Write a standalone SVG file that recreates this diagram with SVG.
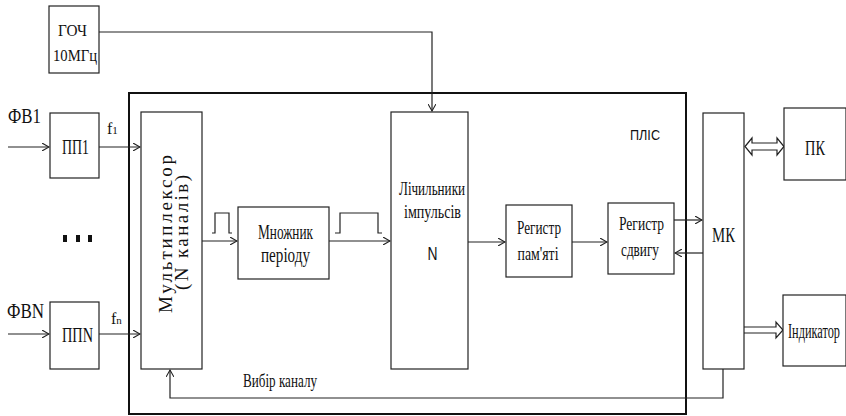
<svg xmlns="http://www.w3.org/2000/svg" width="846" height="416" viewBox="0 0 846 416">
<defs>
<style>
.b{fill:#fff;stroke:#222;stroke-width:1.2}
.c{fill:none;stroke:#222;stroke-width:1.2}
.m{text-anchor:middle}
</style>
<marker id="a" viewBox="0 0 8 8" refX="7" refY="4" markerWidth="8" markerHeight="8" markerUnits="userSpaceOnUse" orient="auto">
<path d="M0,0 L7,4 L0,8" fill="none" stroke="#222" stroke-width="1.1"/>
</marker>
</defs>
<rect width="846" height="416" fill="#fff"/>
<g fill="#111">
<g id="plis">
<rect x="129" y="93" width="557" height="321" fill="none" stroke="#111" stroke-width="2"/>
<text class="m" x="645" y="140" font-family="Liberation Sans" font-size="15" textLength="30" lengthAdjust="spacingAndGlyphs">ПЛІС</text>
</g>
<g id="connectors">
<path class="c" d="M99,32 H432 V111" marker-end="url(#a)"/>
<path class="c" d="M8,147 H49" marker-end="url(#a)"/>
<path class="c" d="M99,147 H140" marker-end="url(#a)"/>
<path class="c" d="M8,334 H49" marker-end="url(#a)"/>
<path class="c" d="M99,334 H140" marker-end="url(#a)"/>
<path class="c" d="M202,241 H237" marker-end="url(#a)"/>
<path class="c" d="M329,241 H390" marker-end="url(#a)"/>
<path class="c" d="M468,242 H505" marker-end="url(#a)"/>
<path class="c" d="M572,242 H607" marker-end="url(#a)"/>
<path class="c" d="M674,220 H702" marker-end="url(#a)"/>
<path class="c" d="M703,253 H675" marker-end="url(#a)"/>
<path class="c" d="M723,369 V398 H170 V370" marker-end="url(#a)"/>
<path class="c" d="M745,146.5 L752,138 V143 H777 V138 L784,146.5 L777,155 V150 H752 V155 Z"/>
<path class="c" d="M744,327 H776 V322 L783,330 L776,338 V333 H744"/>
<path class="c" d="M212,233 H215 V213 H229 V233 H232"/>
<path class="c" d="M335,233 H340 V213 H378 V233 H382"/>
<text x="243" y="387" font-family="Liberation Serif" font-size="18" textLength="74" lengthAdjust="spacingAndGlyphs">Вибір каналу</text>
</g>
<g id="goch">
<rect class="b" x="49" y="6" width="50" height="67"/>
<text class="m" x="72.5" y="36" font-family="Liberation Serif" font-size="17" textLength="29" lengthAdjust="spacingAndGlyphs">ГОЧ</text>
<text class="m" x="75" y="61" font-family="Liberation Serif" font-size="17" textLength="44" lengthAdjust="spacingAndGlyphs">10МГц</text>
</g>
<g id="inputs">
<text x="8" y="123" font-family="Liberation Serif" font-size="21" textLength="33" lengthAdjust="spacingAndGlyphs">ФВ1</text>
<text x="7" y="318" font-family="Liberation Serif" font-size="21" textLength="37" lengthAdjust="spacingAndGlyphs">ФВN</text>
<text x="107" y="134" font-family="Liberation Serif" font-size="16">f<tspan font-size="11">1</tspan></text>
<text x="111" y="324" font-family="Liberation Serif" font-size="16">f<tspan font-size="11">n</tspan></text>
<g><rect x="63" y="235" width="4" height="7"/><rect x="76" y="235" width="4" height="7"/><rect x="88" y="235" width="4" height="7"/></g>
</g>
<g id="pp1">
<rect class="b" x="50" y="113" width="49" height="65"/>
<text class="m" x="75.5" y="154" font-family="Liberation Serif" font-size="21" textLength="27" lengthAdjust="spacingAndGlyphs">ПП1</text>
</g>
<g id="ppn">
<rect class="b" x="50" y="302" width="49" height="67"/>
<text class="m" x="77.5" y="342" font-family="Liberation Serif" font-size="21" textLength="31" lengthAdjust="spacingAndGlyphs">ППN</text>
</g>
<g id="mux">
<rect class="b" x="141" y="112" width="61" height="257"/>
<text class="m" transform="translate(172,234) rotate(-90)" font-family="Liberation Serif" font-size="19" textLength="158" lengthAdjust="spacing">Мультиплексор</text>
<text class="m" transform="translate(188,232.5) rotate(-90)" font-family="Liberation Serif" font-size="19" textLength="115" lengthAdjust="spacing">(N каналів)</text>
</g>
<g id="mult">
<rect class="b" x="238" y="207" width="91" height="72"/>
<text class="m" x="285.5" y="239" font-family="Liberation Serif" font-size="20" textLength="55" lengthAdjust="spacingAndGlyphs">Множник</text>
<text class="m" x="285.5" y="262" font-family="Liberation Serif" font-size="20" textLength="49" lengthAdjust="spacingAndGlyphs">періоду</text>
</g>
<g id="counter">
<rect class="b" x="391" y="112" width="77" height="257"/>
<text class="m" x="432" y="195" font-family="Liberation Serif" font-size="19" textLength="66" lengthAdjust="spacingAndGlyphs">Лічильники</text>
<text class="m" x="432.5" y="218" font-family="Liberation Serif" font-size="19" textLength="57" lengthAdjust="spacingAndGlyphs">імпульсів</text>
<text class="m" x="432.5" y="260" font-family="Liberation Sans" font-size="18" textLength="10" lengthAdjust="spacingAndGlyphs">N</text>
</g>
<g id="regmem">
<rect class="b" x="506" y="205" width="66" height="72"/>
<text class="m" x="539" y="234" font-family="Liberation Serif" font-size="18" textLength="44" lengthAdjust="spacingAndGlyphs">Регистр</text>
<text class="m" x="538" y="260" font-family="Liberation Serif" font-size="18" textLength="41" lengthAdjust="spacingAndGlyphs">пам'яті</text>
</g>
<g id="regshift">
<rect class="b" x="608" y="203" width="66" height="71"/>
<text class="m" x="641.5" y="230" font-family="Liberation Serif" font-size="18" textLength="45" lengthAdjust="spacingAndGlyphs">Регистр</text>
<text class="m" x="640" y="256" font-family="Liberation Serif" font-size="18" textLength="38" lengthAdjust="spacingAndGlyphs">сдвигу</text>
</g>
<g id="mk">
<rect class="b" x="703" y="113" width="41" height="256"/>
<text class="m" x="723.5" y="242" font-family="Liberation Serif" font-size="21" textLength="23" lengthAdjust="spacingAndGlyphs">МК</text>
</g>
<g id="pk">
<rect class="b" x="784" y="108" width="62" height="72"/>
<text class="m" x="815" y="155" font-family="Liberation Serif" font-size="20" textLength="20" lengthAdjust="spacingAndGlyphs">ПК</text>
</g>
<g id="indicator">
<rect class="b" x="783" y="295" width="63" height="71"/>
<text class="m" x="814" y="338" font-family="Liberation Serif" font-size="20" textLength="52" lengthAdjust="spacingAndGlyphs">Індикатор</text>
</g>
</g>
</svg>
